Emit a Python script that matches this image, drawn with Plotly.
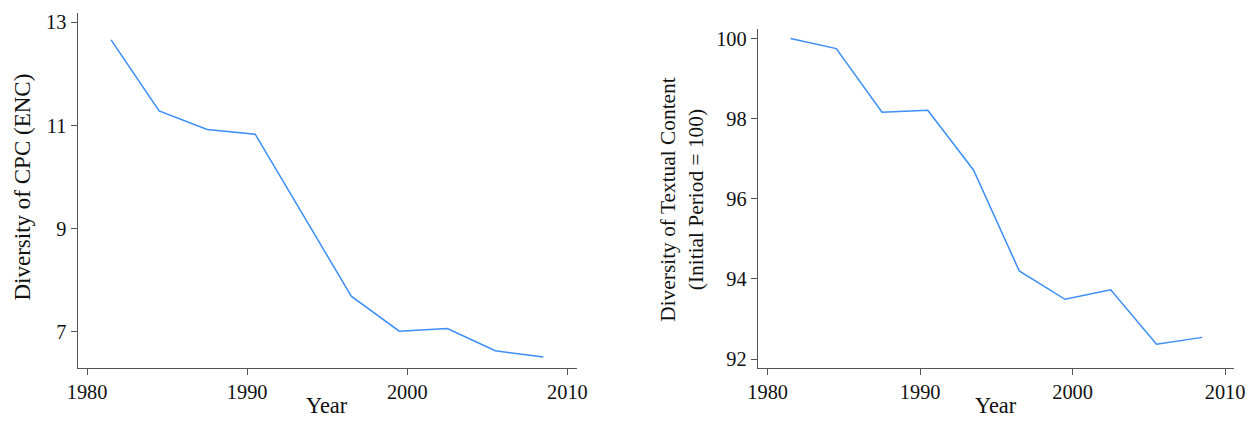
import plotly.graph_objects as go

years = [1981.5, 1984.5, 1987.5, 1990.5, 1993.5, 1996.5, 1999.5, 2002.5, 2005.5, 2008.5]
cpc_diversity = [12.66, 11.28, 10.92, 10.83, 9.26, 7.69, 7.01, 7.06, 6.63, 6.51]
text_diversity = [100.0, 99.75, 98.16, 98.21, 96.72, 94.20, 93.49, 93.73, 92.37, 92.54]

x_ticks = [1980, 1990, 2000, 2010]
left_y_ticks = [7, 9, 11, 13]
right_y_ticks = [92, 94, 96, 98, 100]

W, H = 1249, 421
LINE_COLOR = "#3b8ef7"
AXIS_COLOR = "#555555"
TEXT_COLOR = "#111111"
FONT = "Liberation Serif"

# photographed picture appears slightly shrunk & centred; compensate
KX, OX = 0.982, 11.4
KY, OY = 0.991, 2.0

def px_x(p):
    return ((p - OX) / KX) / W

def px_y(p):
    return 1 - ((p - OY) / KY) / H

def fs(s):
    return s / KX

fig = go.Figure()
fig.add_trace(go.Scatter(x=years, y=cpc_diversity, mode="lines",
                         line=dict(color=LINE_COLOR, width=1.5),
                         xaxis="x", yaxis="y", showlegend=False))
fig.add_trace(go.Scatter(x=years, y=text_diversity, mode="lines",
                         line=dict(color=LINE_COLOR, width=1.5),
                         xaxis="x2", yaxis="y2", showlegend=False))

axis_common = dict(showgrid=False, zeroline=False, showline=True,
                   linecolor=AXIS_COLOR, linewidth=1.2,
                   ticks="outside", ticklen=6, tickwidth=1.2, tickcolor=AXIS_COLOR,
                   tickfont=dict(family=FONT, size=fs(20), color=TEXT_COLOR),
                   fixedrange=True)

fig.update_layout(
    width=W, height=H,
    margin=dict(l=0, r=0, t=0, b=0),
    paper_bgcolor="white", plot_bgcolor="white",
    xaxis=dict(domain=[px_x(78), px_x(577)], range=[1979.41, 2010.59],
               tickvals=x_ticks, anchor="y", **axis_common),
    yaxis=dict(domain=[px_y(368), px_y(13)], range=[6.30, 13.18],
               tickvals=left_y_ticks, anchor="x", **axis_common),
    xaxis2=dict(domain=[px_x(758), px_x(1234)], range=[1979.36, 2010.59],
                tickvals=x_ticks, anchor="y2", **axis_common),
    yaxis2=dict(domain=[px_y(368), px_y(29)], range=[91.78, 100.24],
                tickvals=right_y_ticks, anchor="x2", **axis_common),
    annotations=[
        dict(text="Diversity of CPC (ENC)", x=px_x(22), y=px_y(187),
             xref="paper", yref="paper", textangle=-90, showarrow=False,
             font=dict(family=FONT, size=fs(22.6), color=TEXT_COLOR),
             xanchor="center", yanchor="middle"),
        dict(text="Year", x=px_x(327), y=0, borderpad=0,
             xref="paper", yref="paper", showarrow=False,
             font=dict(family=FONT, size=fs(22), color=TEXT_COLOR),
             xanchor="center", yanchor="bottom"),
        dict(text="Diversity of Textual Content<br>(Initial Period = 100)",
             x=px_x(682), y=px_y(199),
             xref="paper", yref="paper", textangle=-90, showarrow=False,
             font=dict(family=FONT, size=fs(21), color=TEXT_COLOR),
             xanchor="center", yanchor="middle"),
        dict(text="Year", x=px_x(996), y=0, borderpad=0,
             xref="paper", yref="paper", showarrow=False,
             font=dict(family=FONT, size=fs(22), color=TEXT_COLOR),
             xanchor="center", yanchor="bottom"),
    ],
)

post = (
    "document.documentElement.style.overflow='hidden';"
    "document.body.style.margin='0';"
    "document.body.style.padding='0';"
    "document.body.style.overflow='hidden';"
)

fig.write_html("out.html",
               config={"displayModeBar": False},
               post_script=post)
